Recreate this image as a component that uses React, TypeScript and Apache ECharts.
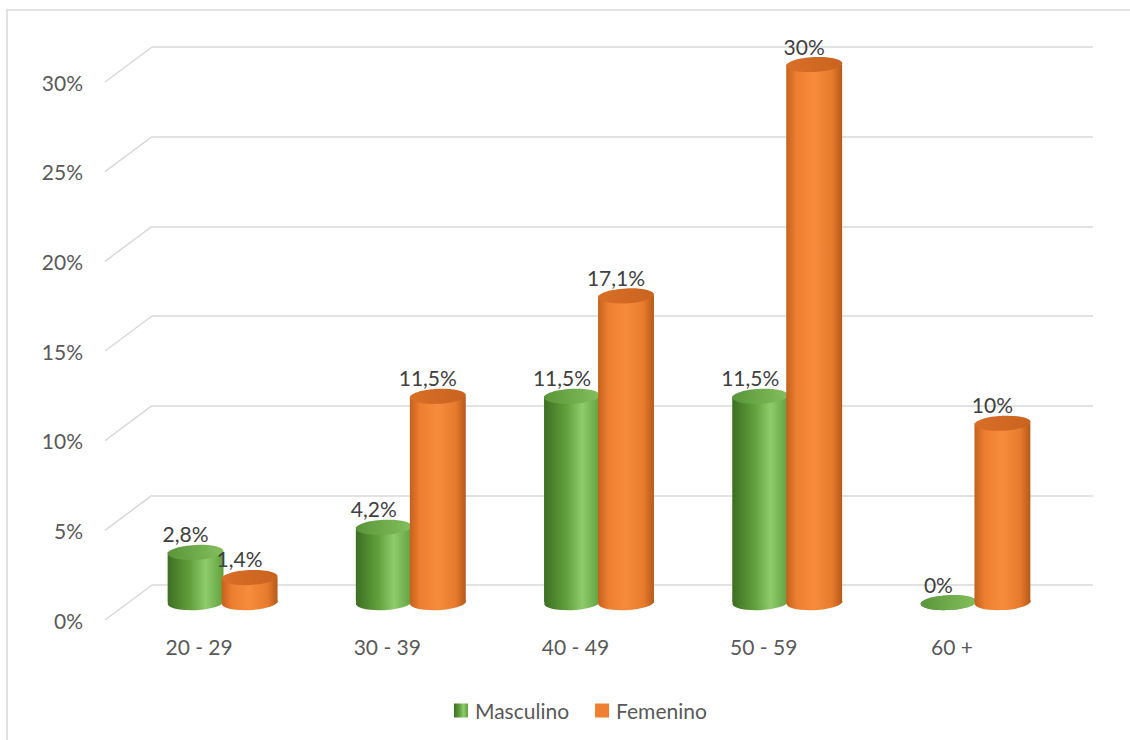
import React, { useEffect, useRef } from "react";
import * as echarts from "echarts";

const categories = ["20 - 29", "30 - 39", "40 - 49", "50 - 59", "60 +"];
const masculino = [2.8, 4.2, 11.5, 11.5, 0];
const femenino = [1.4, 11.5, 17.1, 30, 10];
const yTicks = [0, 5, 10, 15, 20, 25, 30];
const seriesNames = ["Masculino", "Femenino"];

const DX = -47;
const DY = 35;
const FONT = "Lato, 'Noto Sans', sans-serif";

const fmt = (v: number) => String(v).replace(".", ",") + "%";

const lg = (stops: [number, string][]) =>
  new echarts.graphic.LinearGradient(
    0, 0, 1, 0,
    stops.map(([offset, color]) => ({ offset, color }))
  );

const greenBody = () =>
  lg([[0, "#3d6f22"], [0.4, "#62a03d"], [0.68, "#8ecb6b"], [1, "#62a03e"]]);
const greenTop = () => lg([[0, "#5a963a"], [1, "#84bf5d"]]);
const orangeBody = () =>
  lg([[0, "#c4611d"], [0.18, "#ec7e30"], [0.5, "#f88c3d"], [0.82, "#e67a2d"], [1, "#b55a1a"]]);
const orangeTop = () => lg([[0, "#d96f27"], [1, "#c9631f"]]);

function cylinder(side: number, body: () => any, top: () => any) {
  return (params: any, api: any) => {
    const i = api.value(0);
    const v = api.value(1);
    const p0 = api.coord([i, 0]);
    const p1 = api.coord([i, v]);
    const band = api.size([1, 0])[0];
    const w = band * 0.297;
    const cx = p0[0] + DX / 2 + side * band * 0.1435;
    const yb = p0[1] + DY / 2;
    const yt = p1[1] + DY / 2;
    const rx = w / 2;
    const ry = 7.5;
    const rot = 0.05;
    return {
      type: "group",
      children: [
        {
          type: "ellipse",
          shape: { cx, cy: yb, rx, ry },
          rotation: rot,
          originX: cx,
          originY: yb,
          style: { fill: body() },
        },
        {
          type: "rect",
          shape: { x: cx - rx, y: yt, width: w, height: Math.max(0, yb - yt) },
          style: { fill: body() },
        },
        {
          type: "ellipse",
          shape: { cx, cy: yt, rx, ry },
          rotation: rot,
          originX: cx,
          originY: yt,
          style: { fill: top() },
        },
        {
          type: "text",
          x: cx - 10,
          y: yt - ry - 11,
          style: {
            text: fmt(v),
            fill: "#404040",
            font: `21px ${FONT}`,
            align: "center",
            verticalAlign: "middle",
          },
        },
      ],
    };
  };
}

export default function App() {
  const ref = useRef<HTMLDivElement>(null);
  useEffect(() => {
    if (!ref.current) return;
    const chart = echarts.init(ref.current, null, { renderer: "svg" });
    const backGrid = { left: 152, top: 47, width: 941, height: 538 };
    const frontGrid = { left: 152 + DX, top: 47 + DY, width: 941, height: 538 };
    chart.setOption({
      animation: false,
      backgroundColor: "#ffffff",
      textStyle: { fontFamily: FONT },
      graphic: [
        {
          type: "rect",
          shape: { x: 7, y: 10, width: 1300, height: 900 },
          style: { fill: "none", stroke: "#d9d9d9", lineWidth: 1.5 },
          silent: true,
          z: -10,
        },
      ],
      grid: [backGrid, frontGrid],
      legend: {
        data: [
          { name: seriesNames[0], itemStyle: { color: greenBody() } },
          { name: seriesNames[1], itemStyle: { color: "#ef7f31" } },
        ],
        left: 449,
        top: 695,
        icon: "rect",
        itemWidth: 14,
        itemHeight: 14,
        itemGap: 26,
        textStyle: { color: "#595959", fontSize: 21, fontFamily: FONT, padding: [0, 0, 0, 2] },
      },
      xAxis: [
        {
          gridIndex: 0,
          type: "category",
          data: categories,
          axisLine: { show: false },
          axisTick: { show: false },
          axisLabel: { show: false },
        },
        {
          gridIndex: 1,
          type: "category",
          data: categories,
          axisLine: { show: false },
          axisTick: { show: false },
          axisLabel: { color: "#595959", fontSize: 21, fontFamily: FONT, margin: 16 },
        },
      ],
      yAxis: [
        {
          gridIndex: 0,
          type: "value",
          min: 0,
          max: 30,
          interval: 5,
          axisLine: { show: false },
          axisTick: { show: false },
          axisLabel: { show: false },
          splitLine: { lineStyle: { color: "#d9d9d9", width: 1.5 } },
        },
        {
          gridIndex: 1,
          type: "value",
          min: 0,
          max: 30,
          interval: 5,
          axisLine: { show: false },
          axisTick: { show: false },
          splitLine: { show: false },
          axisLabel: {
            color: "#595959",
            fontSize: 21,
            fontFamily: FONT,
            margin: 22,
            formatter: "{value}%",
          },
        },
      ],
      series: [
        {
          type: "custom",
          name: "depth",
          xAxisIndex: 0,
          yAxisIndex: 0,
          clip: false,
          silent: true,
          data: yTicks.map((v) => [0, v]),
          renderItem: (params: any, api: any) => {
            const p = api.coord([0, api.value(1)]);
            const x0 = params.coordSys.x;
            return {
              type: "line",
              shape: { x1: x0, y1: p[1], x2: x0 + DX, y2: p[1] + DY },
              style: { stroke: "#d9d9d9", lineWidth: 1.5 },
            };
          },
          z: 1,
        },
        {
          type: "custom",
          name: seriesNames[0],
          xAxisIndex: 0,
          yAxisIndex: 0,
          clip: false,
          itemStyle: { color: "#6aa744" },
          data: masculino.map((v, i) => [i, v]),
          renderItem: cylinder(-1, greenBody, greenTop),
          z: 2,
        },
        {
          type: "custom",
          name: seriesNames[1],
          xAxisIndex: 0,
          yAxisIndex: 0,
          clip: false,
          itemStyle: { color: "#ef7f31" },
          data: femenino.map((v, i) => [i, v]),
          renderItem: cylinder(1, orangeBody, orangeTop),
          z: 3,
        },
      ],
    });
    return () => chart.dispose();
  }, []);
  return (
    <div
      ref={ref}
      style={{ position: "fixed", left: 0, top: 0, width: 1130, height: 740 }}
    />
  );
}
